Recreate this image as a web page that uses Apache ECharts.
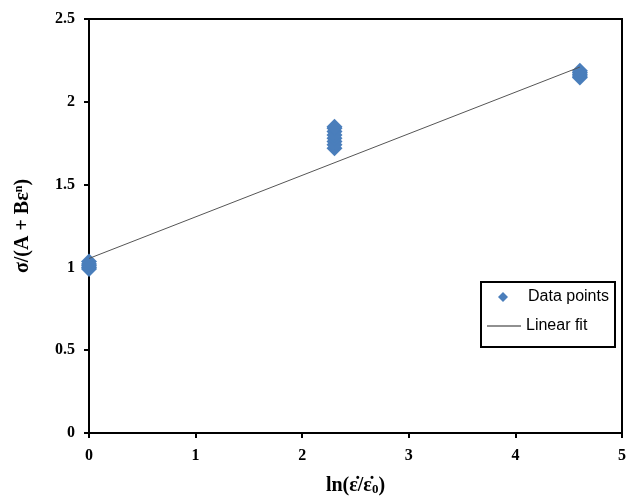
<!DOCTYPE html>
<html><head><meta charset="utf-8">
<script src="https://cdn.jsdelivr.net/npm/echarts@6/dist/echarts.min.js"></script>
<style>html,body{margin:0;padding:0;background:#fff}#c{width:630px;height:501px}</style>
</head><body><div id="c"></div>
<script>
const xTicks = [0, 1, 2, 3, 4, 5];
const yTicks = [0, 0.5, 1, 1.5, 2, 2.5];
const pointsX = [0, 0, 0, 0, 0, 2.303, 2.303, 2.303, 2.303, 2.303, 2.303, 2.303, 2.303, 4.605, 4.605, 4.605, 4.605, 4.605];
const pointsY = [0.99, 1.0, 1.01, 1.02, 1.035, 1.72, 1.74, 1.76, 1.78, 1.80, 1.82, 1.84, 1.85, 2.146, 2.156, 2.167, 2.177, 2.188];
const fitX = [0, 4.605];
const fitY = [1.054, 2.21];

const chart = echarts.init(document.getElementById('c'));
const serif = '"Liberation Serif","Times New Roman",serif';
const legendFont = {fontFamily: '"Liberation Sans",Arial,sans-serif', fontSize: 16, color: '#000'};
chart.setOption({
  animation: false,
  grid: {left: 89, right: 8, top: 19, bottom: 67, show: true, borderColor: '#000', borderWidth: 2},
  xAxis: {
    type: 'value', min: 0, max: 5, interval: 1,
    axisLine: {show: true, lineStyle: {color: '#000', width: 2}},
    axisTick: {show: true, length: 5, lineStyle: {color: '#000', width: 2}},
    splitLine: {show: false},
    axisLabel: {color: '#000', fontFamily: serif, fontWeight: 'bold', fontSize: 16, margin: 15},
    name: '{a|ln(ε̇/ε̇}{s|0}{a|)}', nameLocation: 'middle', nameGap: 42,
    nameTextStyle: {rich: {a: {fontFamily: serif, fontWeight: 'bold', fontSize: 20, color: '#000'},
                           s: {fontFamily: serif, fontWeight: 'bold', fontSize: 13, color: '#000', verticalAlign: 'bottom', padding: [8,0,0,0]}}}
  },
  yAxis: {
    type: 'value', min: 0, max: 2.5, interval: 0.5,
    axisLine: {show: true, lineStyle: {color: '#000', width: 2}},
    axisTick: {show: true, length: 5, lineStyle: {color: '#000', width: 2}},
    splitLine: {show: false},
    axisLabel: {color: '#000', fontFamily: serif, fontWeight: 'bold', fontSize: 16, margin: 14},
    name: '{a|σ/(A + Bε}{s|n}{a|)}', nameLocation: 'middle', nameGap: 56, nameRotate: 90,
    nameTextStyle: {rich: {a: {fontFamily: serif, fontWeight: 'bold', fontSize: 20, color: '#000'},
                           s: {fontFamily: serif, fontWeight: 'bold', fontSize: 12, color: '#000', verticalAlign: 'top', padding: [0,0,8,0]}}}
  },
  legend: [
    {orient: 'vertical', left: 498, top: 289, padding: 0, itemWidth: 10, itemHeight: 10,
     textStyle: Object.assign({padding: [0, 0, 0, 15]}, legendFont),
     data: [{name: 'Data points', icon: 'diamond'}]},
    {orient: 'vertical', left: 487, top: 318, padding: 0, itemWidth: 34, itemHeight: 1,
     textStyle: Object.assign({padding: [0, 0, 0, 0]}, legendFont),
     data: [{name: 'Linear fit', icon: 'rect', itemStyle: {color: '#222'}}]}
  ],
  graphic: [{type: 'rect', shape: {x: 481, y: 282, width: 134, height: 65},
             style: {fill: 'none', stroke: '#000', lineWidth: 2}, z: 10}],
  series: [
    {name: 'Data points', type: 'scatter', symbol: 'diamond', symbolSize: [16, 16],
     itemStyle: {color: '#4a7ebb', opacity: 1},
     data: pointsX.map((x, i) => [x, pointsY[i]]), z: 3},
    {name: 'Linear fit', type: 'line', symbol: 'none',
     lineStyle: {color: '#555', width: 1}, itemStyle: {color: '#555'},
     data: fitX.map((x, i) => [x, fitY[i]]), z: 4}
  ]
});
</script></body></html>
